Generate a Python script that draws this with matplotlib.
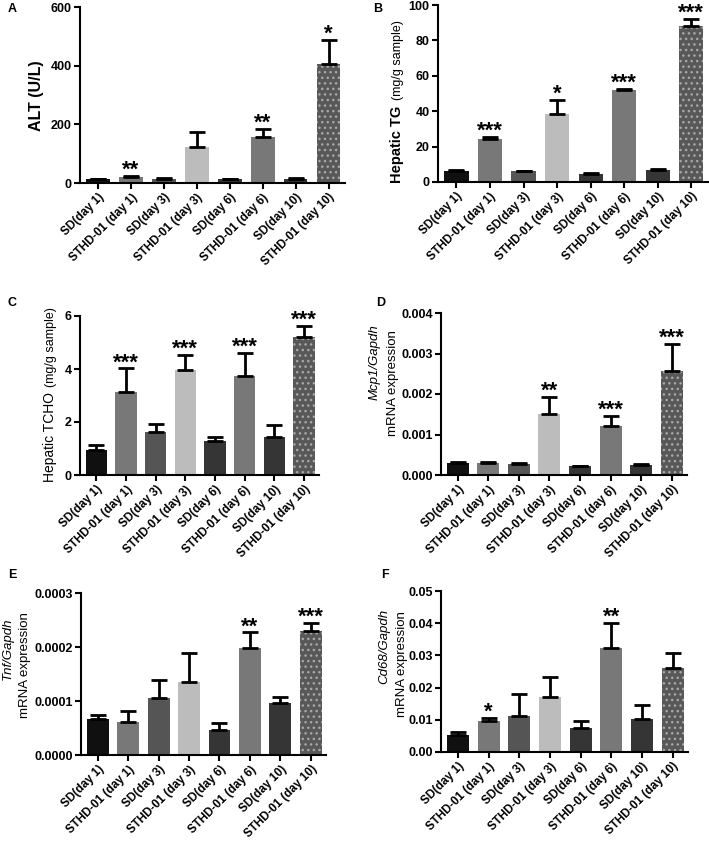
import matplotlib
matplotlib.use('Agg')
import matplotlib.pyplot as plt
from matplotlib.ticker import FormatStrFormatter

plt.rcParams['font.family'] = ['Liberation Sans', 'DejaVu Sans']
plt.rcParams['hatch.linewidth'] = 1.0

# groups (x axis)
groups = ['SD(day 1)', 'STHD-01 (day 1)', 'SD(day 3)', 'STHD-01 (day 3)',
          'SD(day 6)', 'STHD-01 (day 6)', 'SD(day 10)', 'STHD-01 (day 10)']

# panel values (mean, upper error) and significance marks
alt_mean = [12, 20, 15, 123, 12, 157, 15, 405]
alt_err = [3, 3, 3, 50, 3, 27, 3, 83]
alt_sig = ['', '**', '', '', '', '**', '', '*']

tg_mean = [6.3, 24.2, 6.0, 38.5, 4.7, 51.7, 6.6, 88.0]
tg_err = [0.6, 1.5, 0.4, 8.0, 0.3, 1.0, 0.8, 4.3]
tg_sig = ['', '***', '', '*', '', '***', '', '***']

tcho_mean = [0.95, 3.12, 1.62, 3.97, 1.30, 3.75, 1.45, 5.22]
tcho_err = [0.20, 0.90, 0.30, 0.55, 0.15, 0.85, 0.42, 0.42]
tcho_sig = ['', '***', '', '***', '', '***', '', '***']

mcp1_mean = [0.00030, 0.00030, 0.00026, 0.00150, 0.00021, 0.00122, 0.00024, 0.00257]
mcp1_err = [0.00003, 0.00003, 0.00004, 0.00043, 0.00002, 0.00023, 0.00003, 0.00066]
mcp1_sig = ['', '', '', '**', '', '***', '', '***']

tnf_mean = [6.6e-5, 6.2e-5, 10.6e-5, 13.5e-5, 4.7e-5, 19.8e-5, 9.7e-5, 23.0e-5]
tnf_err = [0.8e-5, 1.9e-5, 3.3e-5, 5.4e-5, 1.2e-5, 2.9e-5, 1.0e-5, 1.4e-5]
tnf_sig = ['', '', '', '', '', '**', '', '***']

cd68_mean = [0.0052, 0.0096, 0.0111, 0.0170, 0.0076, 0.0322, 0.0104, 0.0260]
cd68_err = [0.0010, 0.0011, 0.0070, 0.0063, 0.0020, 0.0080, 0.0043, 0.0047]
cd68_sig = ['', '*', '', '', '', '**', '', '']

bar_colors = ['#101010', '#787878', '#555555', '#bcbcbc',
              '#353535', '#787878', '#353535', '#585858']

W, H = 709, 844
fig = plt.figure(figsize=(W / 100, H / 100), dpi=100)


def px_axes(left, top, right, bottom):
    return fig.add_axes([left / W, 1 - bottom / H, (right - left) / W, (bottom - top) / H])


def ftext(x, y, s, **kw):
    # text placed by pixel position from the top-left corner
    return fig.text(x / W, 1 - y / H, s, **kw)


def draw_panel(box, mean, err, sig, ymax, step, fmt, letter, letter_xy):
    ax = px_axes(*box)
    x = list(range(len(groups)))
    bars = ax.bar(x, mean, width=0.72, color=bar_colors, edgecolor='none', zorder=2)
    bars[-1].set_hatch('...')
    bars[-1].set_edgecolor('#a8a8a8')
    bars[-1].set_linewidth(0)
    ax.errorbar(x, mean, yerr=[[0] * len(mean), err], fmt='none', ecolor='black',
                elinewidth=2.0, capsize=6, capthick=2.0, zorder=3)
    for xi, m, e, s in zip(x, mean, err, sig):
        if s:
            ax.annotate(s, (xi, m + e), xytext=(0, -3.5), textcoords='offset points',
                        ha='center', va='bottom', fontsize=16, fontweight='bold',
                        annotation_clip=False)
    ax.set_xlim(-0.55, 7.5)
    ax.set_ylim(0, ymax)
    ticks = [i * step for i in range(int(round(ymax / step)) + 1)]
    ax.set_yticks(ticks)
    ax.yaxis.set_major_formatter(FormatStrFormatter(fmt))
    ax.set_xticks(x)
    ax.set_xticklabels(groups, rotation=45, ha='right', rotation_mode='anchor',
                       fontsize=8.5, fontweight='bold')
    for lab in ax.get_yticklabels():
        lab.set_fontweight('bold')
        lab.set_fontsize(9)
    for side in ['top', 'right']:
        ax.spines[side].set_visible(False)
    for side in ['left', 'bottom']:
        ax.spines[side].set_linewidth(1.5)
    ax.tick_params(axis='both', width=1.5, length=4, pad=2)
    ftext(letter_xy[0], letter_xy[1], letter, fontsize=9, fontweight='bold',
          ha='left', va='center')
    return ax


draw_panel((80, 7, 345, 183), alt_mean, alt_err, alt_sig, 600, 200, '%d', 'A', (8, 9))
ftext(36, 96, 'ALT (U/L)', rotation=90, ha='center', va='center',
      fontsize=11.5, fontweight='bold')

draw_panel((438, 5, 708, 182), tg_mean, tg_err, tg_sig, 100, 20, '%d', 'B', (373, 9))
ftext(397, 183, 'Hepatic TG', rotation=90, ha='center', va='bottom',
      fontsize=10.5, fontweight='bold')
ftext(398, 100, '(mg/g sample)', rotation=90, ha='center', va='bottom', fontsize=9)

draw_panel((80, 316, 319, 475), tcho_mean, tcho_err, tcho_sig, 6, 2, '%d', 'C', (8, 303))
ftext(50, 482, 'Hepatic TCHO', rotation=90, ha='center', va='bottom', fontsize=10)
ftext(51, 387, '(mg/g sample)', rotation=90, ha='center', va='bottom', fontsize=9)

draw_panel((441, 313, 687, 475), mcp1_mean, mcp1_err, mcp1_sig, 0.004, 0.001, '%.3f', 'D', (376, 303))
ftext(375, 362, 'Mcp1/Gapdh', rotation=90, ha='center', va='center',
      fontsize=9.5, fontstyle='italic')
ftext(393, 383, 'mRNA expression', rotation=90, ha='center', va='center', fontsize=9.5)

draw_panel((81, 593, 326, 755), tnf_mean, tnf_err, tnf_sig, 0.0003, 0.0001, '%.4f', 'E', (8, 575))
ftext(8, 649, 'Tnf/Gapdh', rotation=90, ha='center', va='center',
      fontsize=9.5, fontstyle='italic')
ftext(25, 665, 'mRNA expression', rotation=90, ha='center', va='center', fontsize=9.5)

draw_panel((441, 591, 688, 752), cd68_mean, cd68_err, cd68_sig, 0.05, 0.01, '%.2f', 'F', (381, 575))
ftext(384, 646, 'Cd68/Gapdh', rotation=90, ha='center', va='center',
      fontsize=9.5, fontstyle='italic')
ftext(402, 664, 'mRNA expression', rotation=90, ha='center', va='center', fontsize=9.5)

fig.savefig('out.png', dpi=100)
